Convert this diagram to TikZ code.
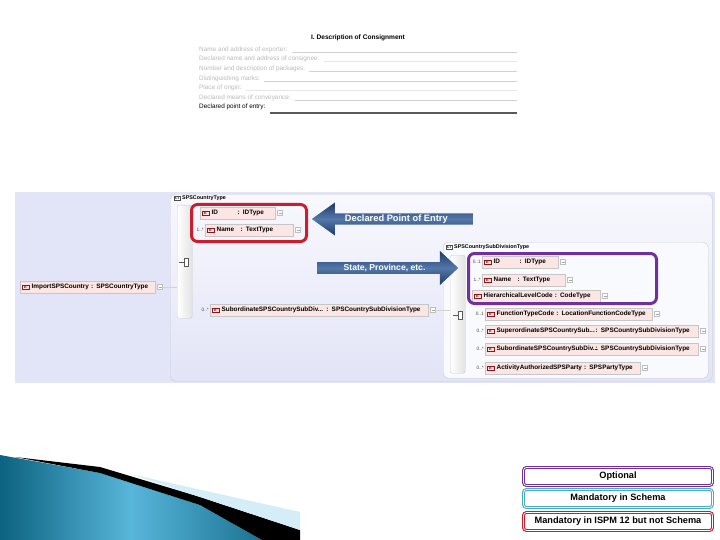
\documentclass[tikz,border=0pt]{standalone}
\usepackage{fontspec}
\setmainfont{Liberation Sans}
\usepackage{tikz}
\usetikzlibrary{shapes.arrows,shadows}
\definecolor{lav}{RGB}{226,228,247}
\definecolor{elfill}{RGB}{252,230,228}
\definecolor{redmark}{RGB}{200,30,45}
\definecolor{purplemark}{RGB}{112,48,160}
\definecolor{tealmark}{RGB}{75,172,198}
\definecolor{navy}{RGB}{30,58,104}
\definecolor{navymid}{RGB}{84,120,170}
\definecolor{tealdark}{RGB}{12,98,128}
\definecolor{teallight}{RGB}{88,182,218}
\tikzstyle{formrow}=[anchor=base west, inner sep=0pt, text=gray!55, font=\fontsize{6.4}{7}\selectfont]
\tikzstyle{uline}=[draw=gray!35, line width=0.5pt]
\tikzstyle{panel}=[draw=gray!40, rounded corners=5pt, anchor=north west, inner sep=0pt]
\tikzstyle{bar}=[draw=gray!40, left color=white, right color=gray!22, rounded corners=2pt, anchor=north west, inner sep=0pt]
\tikzstyle{expander}=[draw=gray!50, fill=white, minimum size=5pt, inner sep=0pt, xshift=2pt, path picture={\draw[gray!70] ([xshift=1pt]path picture bounding box.west) -- ([xshift=-1pt]path picture bounding box.east);}]
\tikzstyle{mult}=[text=gray!60!black, inner sep=1pt, font=\fontsize{4.8}{5}\selectfont]
\tikzstyle{elem}=[draw=gray!45, fill=elfill, anchor=west, inner sep=1.5pt, minimum height=12pt, text height=4.6pt, text depth=1.3pt, font=\bfseries\fontsize{6.4}{7}\selectfont, drop shadow={opacity=0.15, shadow xshift=0.8pt, shadow yshift=-0.8pt}, label={[expander]right:{}}]
\tikzstyle{markbox}=[rounded corners=6pt, line width=3pt, anchor=north west, inner sep=0pt]
\tikzstyle{bluearrow}=[single arrow, single arrow head indent=0pt, top color=navy, bottom color=navy, middle color=navymid, text=white, font=\bfseries\fontsize{9.3}{10}\selectfont, inner sep=0pt]
\tikzstyle{legend}=[rounded corners=3pt, line width=1.1pt, double=white, double distance=0.7pt, minimum width=189pt, minimum height=18pt, font=\bfseries\fontsize{9.2}{10}\selectfont]
\tikzstyle{seq}=[draw=gray!70!black, fill=white, minimum width=3.5pt, minimum height=8pt, inner sep=0pt]
\tikzstyle{conn}=[draw=gray!35, line width=0.4pt]
\tikzstyle{ctlabel}=[anchor=west, inner sep=0pt, font=\bfseries\fontsize{5.4}{6}\selectfont]
\providecommand{\elem}{\node[elem]}
\newcommand{\eico}{{\setlength{\fboxsep}{0.5pt}\setlength{\fboxrule}{0.4pt}\fcolorbox{redmark!70!black}{red!12}{\makebox[6pt]{\fontsize{3.5}{4}\selectfont E}}}}
\newcommand{\ctico}{{\setlength{\fboxsep}{0.5pt}\setlength{\fboxrule}{0.4pt}\fcolorbox{gray!60!black}{white}{\fontsize{3.5}{4}\selectfont CT}}}

\begin{document}
\begin{tikzpicture}[x=1pt, y=-1pt]
\useasboundingbox (0,0) rectangle (720,540);
\coordinate (ulend) at (517,0);
\node[inner sep=0pt, font=\bfseries\fontsize{6.6}{7}\selectfont] (title) at (358,38) {I. Description of Consignment};
\node[formrow] (f1) at (199,51.5) {Name and address of exporter:};
\node[formrow] (f2) at (199,61) {Declared name and address of consignee:};
\node[formrow] (f3) at (199,70.7) {Number and description of packages:};
\node[formrow] (f4) at (199,80.3) {Distinguishing marks:};
\node[formrow] (f5) at (199,90) {Place of origin:};
\node[formrow] (f6) at (199,99.5) {Declared means of conveyance:};
\node[formrow, text=black] (f7) at (199,109) {Declared point of entry:};
\draw[uline] ([xshift=4pt, yshift=-0.5pt]f1.base east) -- ([yshift=-0.5pt]f1.base east -| ulend);
\draw[uline, draw=gray!20] ([xshift=4pt, yshift=-0.5pt]f2.base east) -- ([yshift=-0.5pt]f2.base east -| ulend);
\draw[uline] ([xshift=4pt, yshift=-0.5pt]f3.base east) -- ([yshift=-0.5pt]f3.base east -| ulend);
\draw[uline] ([xshift=4pt, yshift=-0.5pt]f4.base east) -- ([yshift=-0.5pt]f4.base east -| ulend);
\draw[uline, draw=gray!20] ([xshift=4pt, yshift=-0.5pt]f5.base east) -- ([yshift=-0.5pt]f5.base east -| ulend);
\draw[uline] ([xshift=4pt, yshift=-0.5pt]f6.base east) -- ([yshift=-0.5pt]f6.base east -| ulend);
\draw[uline, draw=gray!70!black, line width=1.6pt] ([xshift=4pt, yshift=-4pt]f7.base east) -- ([yshift=-4pt]f7.base east -| ulend);

\fill[lav] (15,192) rectangle (715,383);
\node[panel, top color=white!75!lav, bottom color=lav, minimum width=542pt, minimum height=187pt] (panel1) at (170,194) {};
\node[panel, fill=white!80!lav, minimum width=265pt, minimum height=136pt] (panel2) at (443,242) {};
\node[ctlabel] (ct1) at (174,198) {\ctico\ SPSCountryType};
\node[ctlabel] (ct2) at (446,247) {\ctico\ SPSCountrySubDivisionType};
\node[bar, minimum width=15pt, minimum height=113pt] (bar1) at (177,205) {};
\node[bar, minimum width=15pt, minimum height=118pt] (bar2) at (450,255) {};
\node[seq] (seq1) at (186,262) {};
\node[seq] (seq2) at (460,315) {};
\draw[gray!70!black] (seq1.west) -- ++(-5,0);
\draw[gray!70!black] (seq2.west) -- ++(-5,0);

\elem[text width=132pt] (import) at (20,287) {\eico\ ImportSPSCountry : SPSCountryType};
\elem[text width=72pt] (id1) at (200,213) {\eico\ \makebox[26pt][l]{ID}: IDType};
\elem[text width=85pt, label={[mult]left:1..*}] (name1) at (205,230) {\eico\ \makebox[24pt][l]{Name}: TextType};
\elem[text width=215pt, label={[mult]left:0..*}] (sub1) at (210,310) {\mbox{\eico\ SubordinateSPSCountrySubDiv... : SPSCountrySubDivisionType}};

\elem[text width=73pt, label={[mult]left:0..1}] (id2) at (482,262) {\eico\ \makebox[26pt][l]{ID}: IDType};
\elem[text width=80pt, label={[mult]left:1..*}] (name2) at (482,280) {\eico\ \makebox[24pt][l]{Name}: TextType};
\elem[text width=125pt] (level) at (472,296) {\eico\ HierarchicalLevelCode : CodeType};
\elem[text width=164pt, label={[mult]left:0..1}] (function) at (485,314) {\eico\ FunctionTypeCode : LocationFunctionCodeType};
\elem[text width=210pt, label={[mult]left:0..*}] (super) at (485,331) {\mbox{\eico\ \makebox[99pt][l]{SuperordinateSPSCountrySub...}: SPSCountrySubDivisionType}};
\elem[text width=210pt, label={[mult]left:0..*}] (sub2) at (485,349) {\mbox{\eico\ \makebox[99pt][l]{SubordinateSPSCountrySubDiv...}: SPSCountrySubDivisionType}};
\elem[text width=152pt, label={[mult]left:0..*}] (activity) at (485,368) {\eico\ ActivityAuthorizedSPSParty : SPSPartyType};

\draw[conn] ([xshift=7pt]import.east) -- (import.east -| bar1.west);
\draw[conn] ([xshift=7pt]sub1.east) -- (sub1.east -| bar2.west);

\node[markbox, draw=redmark, minimum width=115pt, minimum height=37pt] (redbox) at (190,203) {};
\node[markbox, draw=purplemark, minimum width=188pt, minimum height=50pt] (purplebox) at (467,252) {};

\node[bluearrow, shape border rotate=180, minimum height=161pt, minimum width=33pt, single arrow head extend=8.5pt, single arrow tip angle=71, anchor=tail] (entry) at (473,219) {Declared Point of Entry};
\node[bluearrow, minimum height=141pt, minimum width=34pt, single arrow head extend=7.5pt, single arrow tip angle=86, anchor=tail, font=\bfseries\fontsize{8.6}{9}\selectfont] (state) at (317,268) {State, Province, etc.};

\node[legend, draw=purplemark] (optional) at (618,476.5) {Optional};
\node[legend, draw=tealmark] (schema) at (618,498.5) {Mandatory in Schema};
\node[legend, draw=redmark] (ispm) at (618,521.5) {Mandatory in ISPM 12 but not Schema};

\shade[left color=tealdark, right color=tealdark!80!teallight, middle color=teallight] (0,455) -- (100,473) -- (200,505) -- (262,540) -- (0,540) -- cycle;
\fill[black] (15,457) -- (100,467) -- (200,497) -- (300,530) -- (300,540) -- (262,540) -- (200,505) -- (100,473) -- cycle;
\fill[teallight!25] (130,474) -- (300,512) -- (300,530) -- (200,497) -- cycle;
\end{tikzpicture}
\end{document}
